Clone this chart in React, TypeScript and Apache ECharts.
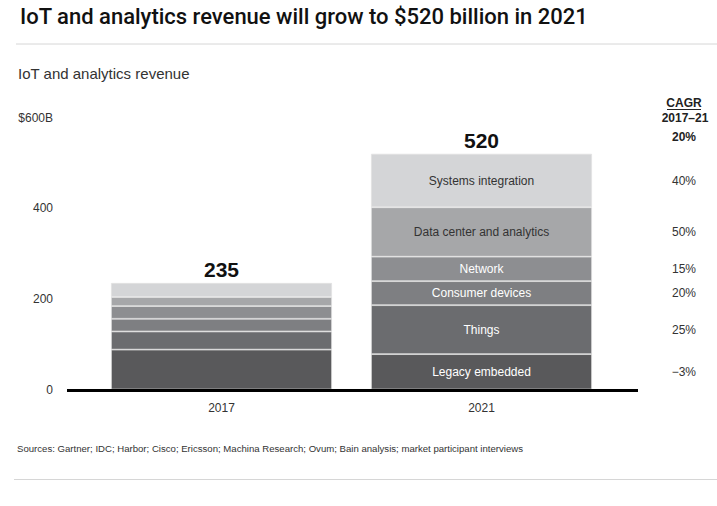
import React, { useEffect, useRef } from "react";
import * as echarts from "echarts";

const years = ["2017", "2021"];
const segments = [
  "Legacy embedded",
  "Things",
  "Consumer devices",
  "Network",
  "Data center and analytics",
  "Systems integration",
];
const values2017 = [88, 40, 28, 28, 20, 31];
const values2021 = [78, 108, 53, 54, 109, 118];
const totals = [235, 520];
const cagrBySegment = ["\u22123%", "25%", "20%", "15%", "50%", "40%"];
const cagrTotal = "20%";
const yTickLabels: Record<number, string> = { 0: "0", 200: "200", 400: "400", 600: "$600B" };

const segColors = ["#59595b", "#6b6c6f", "#7e7f82", "#8d8e91", "#a6a7a9", "#d4d5d7"];
const segLabelColors = ["#ffffff", "#ffffff", "#ffffff", "#ffffff", "#333333", "#333333"];

const SANS = "'Liberation Sans', Arial, Helvetica, sans-serif";

export default function App() {
  const ref = useRef<HTMLDivElement>(null);

  useEffect(() => {
    if (!ref.current) return;
    const chart = echarts.init(ref.current, undefined, { renderer: "svg" });

    const series: any[] = segments.map((name, i) => ({
      name,
      type: "bar",
      stack: "total",
      barWidth: 221,
      data: [
        { value: values2017[i], label: { show: false } },
        {
          value: values2021[i],
          label: {
            show: true,
            position: "inside",
            formatter: name,
            color: segLabelColors[i],
            fontFamily: SANS,
            fontSize: 12,
          },
        },
      ],
      itemStyle: {
        color: segColors[i],
        borderColor: "rgba(225,225,225,0.85)",
        borderWidth: 0.8,
      },
      emphasis: { disabled: true },
    }));

    series.push({
      name: "Total",
      type: "bar",
      stack: "total",
      barWidth: 221,
      data: [0, 0],
      itemStyle: { color: "transparent" },
      label: {
        show: true,
        position: "top",
        distance: 3,
        formatter: (p: any) => String(totals[p.dataIndex]),
        fontFamily: SANS,
        fontSize: 21,
        fontWeight: "bold",
        color: "#111",
      },
      emphasis: { disabled: true },
    });

    const option: any = {
      animation: false,
      backgroundColor: "#ffffff",
      grid: { left: 91.5, right: 105.5, top: 117.5, bottom: 116.5, containLabel: false },
      xAxis: {
        type: "category",
        data: years,
        axisLine: { show: false },
        axisTick: { show: false },
        axisLabel: { color: "#333", fontFamily: SANS, fontSize: 12, margin: 12 },
      },
      yAxis: {
        type: "value",
        min: 0,
        max: 600,
        interval: 200,
        splitLine: { show: false },
        axisLine: { show: false },
        axisTick: { show: false },
        axisLabel: {
          color: "#333",
          fontFamily: SANS,
          fontSize: 12,
          margin: 38.5,
          formatter: (v: number) => yTickLabels[v] ?? String(v),
        },
      },
      series,
    };

    chart.setOption(option);

    // compute CAGR label positions through the chart's scale
    const graphics: any[] = [];
    let cum = 0;
    segments.forEach((_, i) => {
      const mid = cum + values2021[i] / 2;
      cum += values2021[i];
      const y = chart.convertToPixel({ yAxisIndex: 0 }, mid) as number;
      graphics.push({
        type: "text",
        x: 696,
        y,
        style: {
          text: cagrBySegment[i],
          fill: "#333",
          font: `12px ${SANS}`,
          align: "right",
          verticalAlign: "middle",
        },
      });
    });
    const y0 = chart.convertToPixel({ yAxisIndex: 0 }, 0) as number;

    graphics.push(
      {
        type: "text",
        x: 20,
        y: 16,
        style: {
          text: "IoT and analytics revenue will grow to $520 billion in 2021",
          fill: "#111",
          font: `500 22px Roboto, 'Noto Sans', sans-serif`,
          verticalAlign: "middle",
        },
      },
      {
        type: "line",
        shape: { x1: 16, y1: 44, x2: 717, y2: 44 },
        style: { stroke: "#d6d6d6", lineWidth: 1 },
      },
      {
        type: "text",
        x: 18,
        y: 73,
        style: {
          text: "IoT and analytics revenue",
          fill: "#333",
          font: `15px ${SANS}`,
          verticalAlign: "middle",
        },
      },
      {
        type: "text",
        x: 684,
        y: 103,
        style: {
          text: "CAGR",
          fill: "#222",
          font: `bold 12px ${SANS}`,
          align: "center",
          verticalAlign: "middle",
        },
      },
      {
        type: "line",
        shape: { x1: 667, y1: 109.5, x2: 701, y2: 109.5 },
        style: { stroke: "#222", lineWidth: 1 },
      },
      {
        type: "text",
        x: 685,
        y: 118,
        style: {
          text: "2017\u201321",
          fill: "#222",
          font: `bold 12px ${SANS}`,
          align: "center",
          verticalAlign: "middle",
        },
      },
      {
        type: "text",
        x: 696,
        y: 137,
        style: {
          text: cagrTotal,
          fill: "#222",
          font: `bold 12px ${SANS}`,
          align: "right",
          verticalAlign: "middle",
        },
      },
      {
        type: "line",
        shape: { x1: 67, y1: y0 + 1, x2: 638, y2: y0 + 1 },
        style: { stroke: "#000", lineWidth: 3 },
        z: 10,
      },
      {
        type: "text",
        x: 17,
        y: 448,
        style: {
          text:
            "Sources: Gartner; IDC; Harbor; Cisco; Ericsson; Machina Research; Ovum; Bain analysis; market participant interviews",
          fill: "#333",
          font: `9.6px ${SANS}`,
          verticalAlign: "middle",
        },
      },
      {
        type: "line",
        shape: { x1: 14, y1: 479.5, x2: 717, y2: 479.5 },
        style: { stroke: "#d6d6d6", lineWidth: 1 },
      }
    );

    chart.setOption({ graphic: graphics });

    return () => chart.dispose();
  }, []);

  return (
    <div
      ref={ref}
      style={{ position: "fixed", left: 0, top: 0, width: 717, height: 506, background: "#fff" }}
    />
  );
}
